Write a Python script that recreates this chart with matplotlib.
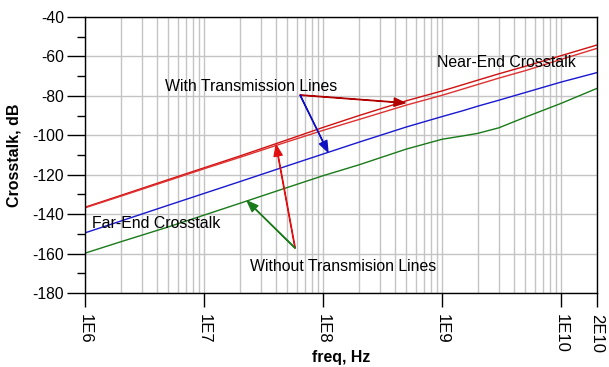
import numpy as np
import matplotlib.pyplot as plt
from matplotlib.ticker import FixedLocator, NullFormatter

plt.rcParams['font.family'] = ['Liberation Sans', 'DejaVu Sans']

freq = [1e6, 2e6, 5e6, 1e7, 2e7, 5e7, 1e8, 2e8, 5e8, 1e9, 1.5e9, 2e9, 3e9, 5e9, 1e10, 2e10]
near_with = [-136.5, -130.5, -122.5, -116.5, -110.5, -102.3, -96.0, -90.0, -82.5, -77.5, -74.3, -72.0, -68.8, -65.0, -59.6, -54.2]
near_without = [-136.8, -130.9, -123.0, -117.0, -111.2, -103.3, -97.5, -92.0, -84.7, -79.7, -76.5, -74.2, -71.0, -67.2, -61.5, -55.9]
far_with = [-149.5, -143.5, -135.5, -129.5, -123.5, -115.5, -109.5, -103.5, -95.8, -90.5, -87.5, -85.2, -82.2, -78.3, -73.0, -68.2]
far_without = [-159.8, -154.0, -146.5, -140.5, -134.5, -126.5, -120.5, -115.0, -107.0, -102.0, -100.3, -99.0, -96.2, -90.8, -83.8, -76.2]

xticks = [1e6, 1e7, 1e8, 1e9, 1e10, 2e10]
xticklabels = ['1E6', '1E7', '1E8', '1E9', '1E10', '2E10']
yticks = [-180, -160, -140, -120, -100, -80, -60, -40]

fig = plt.figure(figsize=(6.09, 3.67), dpi=100)
ax = fig.add_axes([85/609, 1-293/367, 512/609, 276/367])

ax.plot(freq, near_with, color='#d01010', lw=1.0)
ax.plot(freq, near_without, color='#e03030', lw=1.0)
ax.plot(freq, far_with, color='#1818d0', lw=1.0)
ax.plot(freq, far_without, color='#1a7a1a', lw=1.0)

ax.set_xscale('log')
ax.set_xlim(1e6, 2e10)
ax.set_ylim(-180, -40)

# vertical grid at every log step, horizontal only at the labelled values
grid_x = [m * 10**e for e in range(6, 11) for m in range(1, 10) if m * 10**e <= 2e10]
for gx in grid_x:
    ax.axvline(gx, color='#c4c4c4', lw=1.0, zorder=0)
for gy in yticks:
    ax.axhline(gy, color='#c4c4c4', lw=1.0, zorder=0)

ax.xaxis.set_major_locator(FixedLocator(xticks))
ax.set_xticklabels(xticklabels, rotation=-90, fontsize=12)
ax.xaxis.set_minor_locator(FixedLocator([]))
ax.xaxis.set_minor_formatter(NullFormatter())
ax.set_yticks(yticks)
ax.set_yticklabels([str(v) for v in yticks], fontsize=11.3)
ax.yaxis.set_minor_locator(FixedLocator(np.arange(-170, -40, 20)))
ax.tick_params(axis='y', which='major', length=13, width=1, direction='out', pad=2)
ax.tick_params(axis='y', which='minor', length=6, width=1, direction='out')
ax.tick_params(axis='x', which='major', length=10, width=1, direction='out', pad=5)
for s in ax.spines.values():
    s.set_linewidth(1.0)

ax.set_xlabel('freq, Hz', fontsize=11.4, fontweight='bold', va='center')
ax.xaxis.set_label_coords(0.5, -0.232)
ax.set_ylabel('Crosstalk, dB', fontsize=11.5, fontweight='bold', labelpad=8)

ax.text(9.08e8, -63.3, 'Near-End Crosstalk', fontsize=11.4, va='center')
ax.text(4.7e6, -75.5, 'With Transmission Lines', fontsize=11.4, va='center')
ax.text(1.145e6, -145, 'Far-End Crosstalk', fontsize=11.4, va='center')
ax.text(2.44e7, -166.8, 'Without Transmision Lines', fontsize=11.4, va='center')

arr = dict(lw=0.9, headwidth=6, headlength=8, width=0.4)
ax.annotate('', xy=(4.89e8, -83.6), xytext=(6.41e7, -79.6),
            arrowprops=dict(color='#b00000', **arr))
ax.annotate('', xy=(1.10e8, -108.5), xytext=(6.41e7, -79.6),
            arrowprops=dict(color='#1010c0', **arr))
ax.annotate('', xy=(4.03e7, -104.9), xytext=(5.82e7, -157.2),
            arrowprops=dict(color='#e01010', **arr))
ax.annotate('', xy=(2.30e7, -133.3), xytext=(5.82e7, -157.2),
            arrowprops=dict(color='#1a7a1a', **arr))

plt.savefig('out.png', dpi=100)
